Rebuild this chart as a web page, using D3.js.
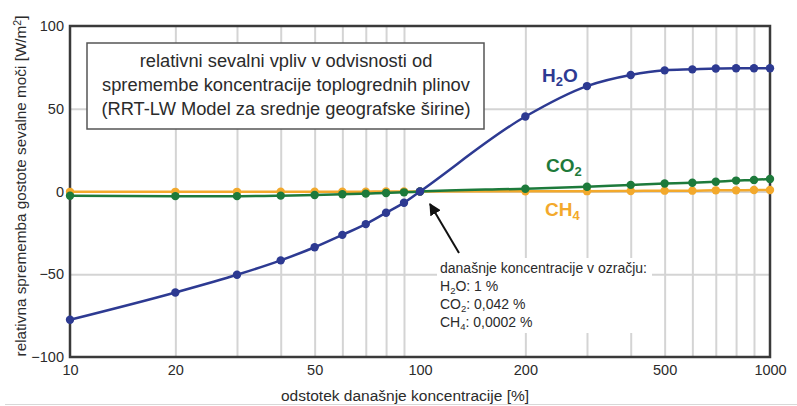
<!DOCTYPE html>
<html>
<head>
<meta charset="utf-8">
<script src="https://cdn.jsdelivr.net/npm/d3@7"></script>
<style>
  body { margin: 0; background: #fff; }
  text { font-family: "Liberation Sans", Arial, sans-serif; fill: #2b2b2b; }
</style>
</head>
<body>
<div id="chart"></div>
<script>
// Data
var concentrations = [10, 20, 30, 40, 50, 60, 70, 80, 90, 100, 200, 300, 400, 500, 600, 700, 800, 900, 1000];
var h2oValues = [-77.5, -61, -50.3, -41.6, -33.7, -26.2, -19.7, -12.8, -6.8, 0, 45.3, 63.7, 70.4, 73.2, 73.8, 74.3, 74.5, 74.5, 74.5];
var co2Values = [-2.6, -2.8, -2.8, -2.5, -2.1, -1.7, -1.3, -0.9, -0.5, 0, 1.7, 2.9, 4.0, 4.8, 5.3, 5.9, 6.6, 7.0, 7.6];
var ch4Values = [-0.2, -0.2, -0.2, -0.1, -0.1, -0.1, -0.1, 0, 0, 0, 0.1, 0.2, 0.3, 0.5, 0.5, 0.7, 0.7, 0.9, 0.9];
var xTickLabels = [10, 20, 50, 100, 200, 500, 1000];
var xGridValues = [20, 30, 40, 50, 60, 70, 80, 90, 200, 300, 400, 500, 600, 700, 800, 900];
var yTickLabels = [-100, -50, 0, 50, 100];
var yGridValues = [-50, 0, 50];
var titleLines = [
  "relativni sevalni vpliv v odvisnosti od",
  "spremembe koncentracije toplogrednih plinov",
  "(RRT-LW Model za srednje geografske širine)"
];

function init() {
  var w = 797;
  var h = 406;
  var margin = { top: 26, right: 27, bottom: 49, left: 70 };

  var svg = d3
    .select("#chart")
    .append("svg")
    .attr("width", w)
    .attr("height", h);

  // Scales
  var x = d3.scaleLog().domain([10, 1000]).range([margin.left, w - margin.right]);
  var y = d3.scaleLinear().domain([-100, 100]).range([h - margin.bottom, margin.top]);

  // Grid
  svg
    .append("g")
    .attr("class", "x grid")
    .attr("transform", "translate(0," + (h - margin.bottom) + ")")
    .call(d3.axisBottom(x).tickValues(xGridValues).tickSize(-(h - margin.top - margin.bottom)).tickFormat(""))
    .call((g) => g.select(".domain").remove())
    .selectAll("line")
    .attr("stroke", "#d4d4d4")
    .attr("stroke-width", 2);

  svg
    .append("g")
    .attr("class", "y grid")
    .attr("transform", "translate(" + margin.left + ",0)")
    .call(d3.axisLeft(y).tickValues(yGridValues).tickSize(-(w - margin.left - margin.right)).tickFormat(""))
    .call((g) => g.select(".domain").remove())
    .selectAll("line")
    .attr("stroke", "#d4d4d4")
    .attr("stroke-width", 2);

  // Frame
  svg
    .append("rect")
    .attr("x", margin.left)
    .attr("y", margin.top)
    .attr("width", w - margin.left - margin.right)
    .attr("height", h - margin.top - margin.bottom)
    .attr("fill", "none")
    .attr("stroke", "#3a3a3a")
    .attr("stroke-width", 2.5);

  // Axes labels
  var xAxis = svg
    .append("g")
    .attr("class", "x axis")
    .attr("transform", "translate(0," + (h - margin.bottom) + ")")
    .call(d3.axisBottom(x).tickValues(xTickLabels).tickFormat(d3.format("d")).tickSize(0).tickPadding(8));
  xAxis.select(".domain").remove();
  xAxis.selectAll("text").attr("font-size", "14.5px").attr("fill", "#2b2b2b");

  var yAxis = svg
    .append("g")
    .attr("class", "y axis")
    .attr("transform", "translate(" + margin.left + ",0)")
    .call(d3.axisLeft(y).tickValues(yTickLabels).tickFormat(d3.format("d")).tickSize(0).tickPadding(6));
  yAxis.select(".domain").remove();
  yAxis.selectAll("text").attr("font-size", "14.5px").attr("fill", "#2b2b2b");

  svg
    .append("text")
    .attr("x", 405)
    .attr("y", 401)
    .attr("text-anchor", "middle")
    .attr("font-size", "15.5px")
    .text("odstotek današnje koncentracije [%]");

  var yTitle = svg
    .append("text")
    .attr("transform", "rotate(-90)")
    .attr("x", -186)
    .attr("y", 26)
    .attr("text-anchor", "middle")
    .attr("font-size", "15.3px");
  yTitle.append("tspan").text("relativna sprememba gostote sevalne moči [W/m");
  yTitle.append("tspan").attr("dy", -5).attr("font-size", "10.5px").text("2");
  yTitle.append("tspan").attr("dy", 5).text("]");

  // Title box
  svg
    .append("rect")
    .attr("x", 87)
    .attr("y", 43)
    .attr("width", 397)
    .attr("height", 86)
    .attr("fill", "#fff")
    .attr("stroke", "#555")
    .attr("stroke-width", 1.5);

  svg
    .selectAll(".title-line")
    .data(titleLines)
    .enter()
    .append("text")
    .attr("class", "title-line")
    .attr("x", 286)
    .attr("y", (d, i) => 67 + i * 24)
    .attr("text-anchor", "middle")
    .attr("font-size", "18.3px")
    .text((d) => d);

  // Annotation box (hides grid behind text)
  svg
    .append("rect")
    .attr("x", 437)
    .attr("y", 258)
    .attr("width", 215)
    .attr("height", 75)
    .attr("fill", "#fff");

  var note = svg.append("g").attr("font-size", "14px");
  note.append("text").attr("x", 440).attr("y", 273).text("današnje koncentracije v ozračju:");

  function formula(g, yPos, base, sub, rest) {
    var t = g.append("text").attr("x", 440).attr("y", yPos);
    t.append("tspan").text(base);
    t.append("tspan").attr("dy", 3).attr("font-size", "9.5px").text(sub);
    t.append("tspan").attr("dy", -3).text(rest);
  }
  formula(note, 291, "H", "2", "O:  1 %");
  formula(note, 309, "CO", "2", ":  0,042 %");
  formula(note, 327, "CH", "4", ":  0,0002 %");

  // Arrow
  svg
    .append("defs")
    .append("marker")
    .attr("id", "arrow")
    .attr("viewBox", "0 0 10 10")
    .attr("refX", 9)
    .attr("refY", 5)
    .attr("markerWidth", 6)
    .attr("markerHeight", 6)
    .attr("orient", "auto")
    .append("path")
    .attr("d", "M0,0 L10,5 L0,10 z")
    .attr("fill", "#111");

  svg
    .append("line")
    .attr("x1", 459)
    .attr("y1", 253)
    .attr("x2", 430)
    .attr("y2", 204)
    .attr("stroke", "#111")
    .attr("stroke-width", 2)
    .attr("marker-end", "url(#arrow)");

  // Series
  var series = [
    { name: "CH", sub: "4", values: ch4Values, color: "#f3a92c", lx: 545, ly: 216 },
    { name: "CO", sub: "2", values: co2Values, color: "#1d7a3b", lx: 546, ly: 172 },
    { name: "H", sub: "2", tail: "O", values: h2oValues, color: "#2d3a92", lx: 542, ly: 82 }
  ];

  var line = d3
    .line()
    .x((d) => x(d.c))
    .y((d) => y(d.v))
    .curve(d3.curveMonotoneX);

  series.forEach(function (s) {
    var pts = concentrations.map((c, i) => ({ c: c, v: s.values[i] }));

    svg
      .append("path")
      .datum(pts)
      .attr("fill", "none")
      .attr("stroke", s.color)
      .attr("stroke-width", 2.5)
      .attr("d", line);

    svg
      .selectAll(".pt-" + s.name)
      .data(pts)
      .enter()
      .append("circle")
      .attr("class", "pt-" + s.name)
      .attr("cx", (d) => x(d.c))
      .attr("cy", (d) => y(d.v))
      .attr("r", 4.2)
      .attr("fill", s.color);

    var label = svg
      .append("text")
      .attr("x", s.lx)
      .attr("y", s.ly)
      .attr("font-size", "19px")
      .attr("font-weight", "bold")
      .style("fill", s.color);
    label.append("tspan").text(s.name);
    label.append("tspan").attr("dy", 4).attr("font-size", "13px").text(s.sub);
    if (s.tail) label.append("tspan").attr("dy", -4).text(s.tail);
  });

  // faint bottom rule
  svg
    .append("line")
    .attr("x1", 5)
    .attr("x2", w)
    .attr("y1", 404.5)
    .attr("y2", 404.5)
    .attr("stroke", "#d8d8d8")
    .attr("stroke-width", 1);
}

window.onload = init;
</script>
</body>
</html>
